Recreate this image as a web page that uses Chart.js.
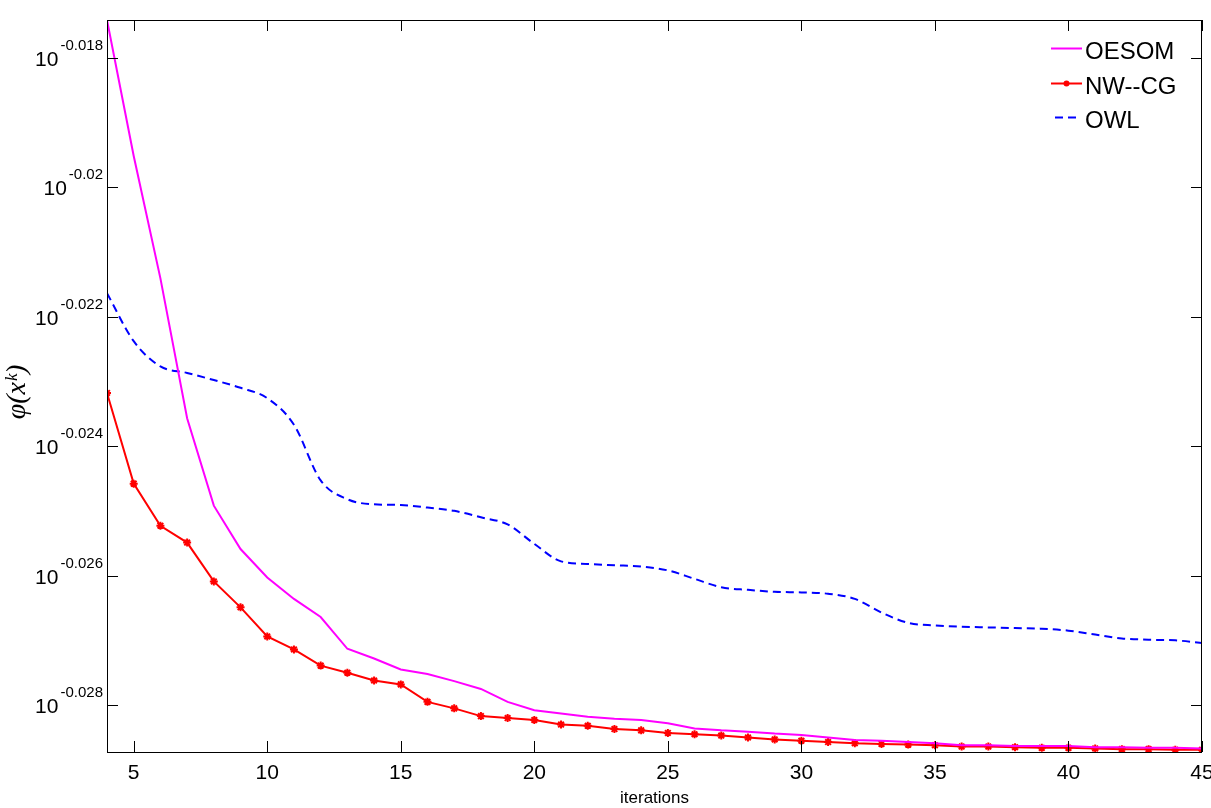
<!DOCTYPE html>
<html>
<head>
<meta charset="utf-8">
<script src="https://cdn.jsdelivr.net/npm/chart.js@4"></script>
<style>
  html, body { margin: 0; padding: 0; background: #fff; }
  #wrap { width: 1211px; height: 808px; position: relative; }
</style>
</head>
<body>
<div id="wrap"><canvas id="c" width="1211" height="808"></canvas></div>
<script>
// ---- data (stored as log10 of phi) ----
const iterations = [4,5,6,7,8,9,10,11,12,13,14,15,16,17,18,19,20,21,22,23,24,25,26,27,28,29,30,31,32,33,34,35,36,37,38,39,40,41,42,43,44,45];

const oesomLog10 = [-0.01742,-0.01952,-0.02141,-0.02357,-0.02492,-0.02559,-0.02603,-0.02636,-0.02664,-0.02713,
  -0.02728,-0.02745,-0.02752,-0.02763,-0.02775,-0.02795,-0.02808,-0.02813,-0.02818,-0.02821,
  -0.02823,-0.02828,-0.02836,-0.02839,-0.02841,-0.02844,-0.02846,-0.02850,-0.02854,-0.02855,
  -0.02857,-0.02859,-0.02862,-0.02862,-0.02863,-0.02863,-0.02863,-0.02865,-0.02865,-0.02866,
  -0.02866,-0.02867];

const nwcgLog10 = [-0.02318,-0.02458,-0.02523,-0.02549,-0.02609,-0.02649,-0.02694,-0.02714,-0.02739,-0.02750,
  -0.02762,-0.02768,-0.02795,-0.02805,-0.02817,-0.02820,-0.02823,-0.02830,-0.02832,-0.02837,
  -0.02839,-0.02843,-0.02845,-0.02847,-0.02850,-0.02853,-0.02855,-0.02857,-0.02859,-0.02860,
  -0.02861,-0.02862,-0.02864,-0.02864,-0.02865,-0.02866,-0.02866,-0.02867,-0.02868,-0.02868,
  -0.02869,-0.02869];

const owlLog10 = [-0.02164,-0.02238,-0.02277,-0.02287,-0.02298,-0.02310,-0.02326,-0.02367,-0.02453,-0.02482,
  -0.02490,-0.02491,-0.02495,-0.02500,-0.02510,-0.02521,-0.02551,-0.02578,-0.02582,-0.02584,
  -0.02586,-0.02592,-0.02605,-0.02618,-0.02622,-0.02625,-0.02626,-0.02628,-0.02636,-0.02657,
  -0.02673,-0.02677,-0.02679,-0.02680,-0.02681,-0.02682,-0.02685,-0.02691,-0.02697,-0.02699,
  -0.02700,-0.02704];

const seriesNames = ['OESOM', 'NW--CG', 'OWL'];
const xTickValues = [5,10,15,20,25,30,35,40,45];
const yTickExponents = [-0.028,-0.026,-0.024,-0.022,-0.020,-0.018];
const yTickExpLabels = ['-0.028','-0.026','-0.024','-0.022','-0.02','-0.018'];
const xRange = [4, 45];
const yExpRange = [-0.0287, -0.01742];

const toPts = arr => arr.map((e, i) => ({ x: iterations[i], y: Math.pow(10, e) }));

const SANS = '"Liberation Sans", Arial, Helvetica, sans-serif';

const decorPlugin = {
  id: 'decor',
  afterDraw(chart) {
    const ctx = chart.ctx;
    const a = chart.chartArea;
    const xs = chart.scales.x, ys = chart.scales.y;
    ctx.save();
    // frame
    ctx.strokeStyle = '#000';
    ctx.lineWidth = 1;
    ctx.strokeRect(Math.round(a.left) + 0.5, Math.round(a.top) + 0.5,
                   Math.round(a.right - a.left) - 1, Math.round(a.bottom - a.top));
    // inward ticks
    ctx.beginPath();
    xs.ticks.forEach(t => {
      const px = Math.round(xs.getPixelForValue(t.value)) + 0.5;
      ctx.moveTo(px, a.bottom); ctx.lineTo(px, a.bottom - 11);
      ctx.moveTo(px, a.top); ctx.lineTo(px, a.top + 11);
    });
    ys.ticks.forEach(t => {
      const py = Math.round(ys.getPixelForValue(t.value)) + 0.5;
      ctx.moveTo(a.left, py); ctx.lineTo(a.left + 11, py);
      ctx.moveTo(a.right, py); ctx.lineTo(a.right - 11, py);
    });
    ctx.stroke();

    // x tick labels
    ctx.fillStyle = '#000';
    ctx.font = '21px ' + SANS;
    ctx.textAlign = 'center';
    ctx.textBaseline = 'alphabetic';
    xs.ticks.forEach(t => {
      const px = xs.getPixelForValue(t.value);
      ctx.fillText(String(t.value), px, a.bottom + 27);
    });

    // y tick labels: 10^exp
    ys.ticks.forEach((t, i) => {
      const py = ys.getPixelForValue(t.value);
      const sup = yTickExpLabels[i];
      ctx.font = '15px ' + SANS;
      const wSup = ctx.measureText(sup).width;
      const right = a.left - 4;
      ctx.textAlign = 'left';
      ctx.fillText(sup, right - wSup, py - 8);
      ctx.font = '21px ' + SANS;
      ctx.textAlign = 'right';
      ctx.fillText('10', right - wSup - 2, py + 8);
    });

    // axis titles
    ctx.font = '17px ' + SANS;
    ctx.textAlign = 'center';
    ctx.fillText('iterations', (a.left + a.right) / 2, 803);

    ctx.save();
    ctx.translate(25, (a.top + a.bottom) / 2 + 6);
    ctx.rotate(-Math.PI / 2);
    ctx.font = 'italic 28px "Liberation Serif", "DejaVu Serif", serif';
    ctx.textAlign = 'center';
    ctx.fillText('\u03C6(x\u1D4F)', 0, 0);
    ctx.restore();

    // legend
    const rows = [48, 83, 117];
    chart.data.datasets.forEach((ds, i) => {
      const y = rows[i];
      ctx.save();
      ctx.strokeStyle = ds.borderColor;
      ctx.lineWidth = 2;
      ctx.setLineDash(ds.borderDash || []);
      ctx.beginPath();
      if (ds.borderDash) { ctx.moveTo(1055, y + 0.5); ctx.lineTo(1081, y + 0.5); }
      else { ctx.moveTo(1051, y + 0.5); ctx.lineTo(1082, y + 0.5); }
      ctx.stroke();
      ctx.setLineDash([]);
      if (ds.pointRadius > 0) {
        ctx.fillStyle = ds.borderColor;
        ctx.beginPath();
        ctx.arc(1066.5, y + 0.5, 3, 0, Math.PI * 2);
        ctx.fill();
      }
      ctx.restore();
      ctx.fillStyle = '#000';
      ctx.font = '24px ' + SANS;
      ctx.textAlign = 'left';
      ctx.textBaseline = 'alphabetic';
      ctx.fillText(ds.label, 1085, y + 11);
    });
    ctx.restore();
  }
};

new Chart(document.getElementById('c'), {
  type: 'line',
  data: {
    datasets: [
      { label: seriesNames[0], data: toPts(oesomLog10), borderColor: '#FF00FF', backgroundColor: '#FF00FF',
        borderWidth: 2, pointRadius: 0, tension: 0, fill: false },
      { label: seriesNames[1], data: toPts(nwcgLog10), borderColor: '#FF0000', backgroundColor: '#FF0000',
        borderWidth: 2, pointRadius: 4, pointStyle: 'star', pointBorderWidth: 2, tension: 0, fill: false },
      { label: seriesNames[2], data: toPts(owlLog10), borderColor: '#0000FF', backgroundColor: '#0000FF',
        borderWidth: 2, borderDash: [8, 5], pointRadius: 0, cubicInterpolationMode: 'monotone', fill: false }
    ]
  },
  options: {
    responsive: false,
    animation: false,
    devicePixelRatio: 1,
    layout: { padding: { left: 0, right: 9, top: 20, bottom: 0 } },
    plugins: { legend: { display: false }, tooltip: { enabled: false } },
    scales: {
      x: {
        type: 'linear', min: xRange[0], max: xRange[1],
        grid: { display: false }, border: { display: false },
        ticks: { display: false },
        afterBuildTicks: s => { s.ticks = xTickValues.map(v => ({ value: v })); },
        afterFit: s => { s.height = 56; }
      },
      y: {
        type: 'logarithmic', min: Math.pow(10, yExpRange[0]), max: Math.pow(10, yExpRange[1]),
        grid: { display: false }, border: { display: false },
        ticks: { display: false },
        afterBuildTicks: s => { s.ticks = yTickExponents.map(e => ({ value: Math.pow(10, e) })); },
        afterFit: s => { s.width = 107; }
      }
    }
  },
  plugins: [decorPlugin]
});
</script>
</body>
</html>
